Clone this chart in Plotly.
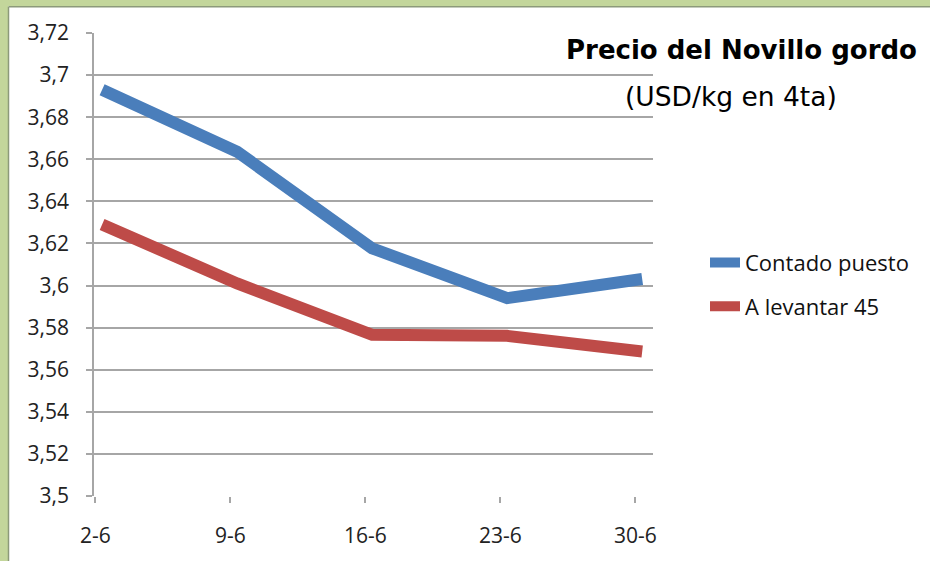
import plotly.graph_objects as go

categories = ["2-6", "9-6", "16-6", "23-6", "30-6"]
contado = [3.693, 3.6636, 3.6177, 3.594, 3.6031]
levantar = [3.629, 3.601, 3.5766, 3.5761, 3.5687]
series_names = ["Contado puesto", "A levantar 45"]
y_ticks = [3.5, 3.52, 3.54, 3.56, 3.58, 3.6, 3.62, 3.64, 3.66, 3.68, 3.7, 3.72]
y_labels = [f"{v:g}".replace(".", ",") for v in y_ticks]

FONT = "Open Sans"
TITLE_FONT = "DejaVu Sans"
W, H = 930, 561
L, R, T, B = 94, 653, 33, 501

fig = go.Figure()
x_idx = list(range(len(categories)))
fig.add_trace(go.Scatter(x=x_idx, y=contado, mode="lines", name=series_names[0],
                         legendgroup="a",
                         line=dict(color="#4A7EBB", width=12)))
fig.add_trace(go.Scatter(x=x_idx, y=levantar, mode="lines", name=series_names[1],
                         legendgroup="b",
                         line=dict(color="#BE4B48", width=12)))

pw = R - L
ph = B - T
def px(x):
    return (x - L) / pw
def py(y):
    return (B - y) / ph

shapes = [
    dict(type="rect", xref="paper", yref="paper", x0=px(-5), x1=px(8), y0=py(-5), y1=py(570),
         fillcolor="#C3D69B", line_width=0, layer="below"),
    dict(type="rect", xref="paper", yref="paper", x0=px(-5), x1=px(940), y0=py(6), y1=py(-5),
         fillcolor="#C3D69B", line_width=0, layer="below"),
    dict(type="line", xref="paper", yref="paper", x0=px(8.5), x1=px(8.5), y0=py(6.5), y1=py(570),
         line=dict(color="#8C9A7A", width=1.5)),
    dict(type="line", xref="paper", yref="paper", x0=px(8.5), x1=px(940), y0=py(6.5), y1=py(6.5),
         line=dict(color="#8C9A7A", width=1.5)),
]

annotations = [
    dict(text="<b>Precio del Novillo gordo</b>", xref="paper", yref="paper",
         x=px(741), y=py(50), xanchor="center", yanchor="middle", showarrow=False,
         font=dict(family=TITLE_FONT, size=26, color="#000000")),
    dict(text="(USD/kg en 4ta)", xref="paper", yref="paper",
         x=px(731), y=py(97), xanchor="center", yanchor="middle", showarrow=False,
         font=dict(family=TITLE_FONT, size=26.5, color="#000000")),
]

fig.update_layout(
    width=W, height=H,
    margin=dict(l=L, r=W - R, t=T, b=H - B, pad=0),
    paper_bgcolor="white", plot_bgcolor="white",
    font=dict(family=FONT, size=22, color="#222222"),
    shapes=shapes, annotations=annotations,
    showlegend=True,
    legend=dict(x=px(705), y=py(244), xanchor="left", yanchor="top",
                font=dict(family=FONT, size=22, color="#111111"),
                tracegroupgap=12, bgcolor="rgba(0,0,0,0)", itemwidth=30),
    xaxis=dict(tickmode="array", tickvals=[v - 0.05 for v in x_idx], ticktext=categories,
               range=[-0.06, 4.08], showgrid=False, zeroline=False,
               showline=False, ticks="outside", ticklen=6, tickcolor="#A6A6A6", tickwidth=1.5,
               tickfont=dict(size=21), ticklabelstandoff=15),
    yaxis=dict(tickmode="array", tickvals=y_ticks, ticktext=y_labels,
               range=[3.5, 3.72], showgrid=True, gridcolor="#A6A6A6", gridwidth=1.5,
               zeroline=False, showline=True, linecolor="#A6A6A6", linewidth=1.5,
               ticks="outside", ticklen=6, tickcolor="#A6A6A6", tickwidth=1.5,
               tickfont=dict(size=21), ticklabelstandoff=13),
)

fig.write_html("out.html", config={"displayModeBar": False},
               post_script="document.body.style.margin='0px';")
